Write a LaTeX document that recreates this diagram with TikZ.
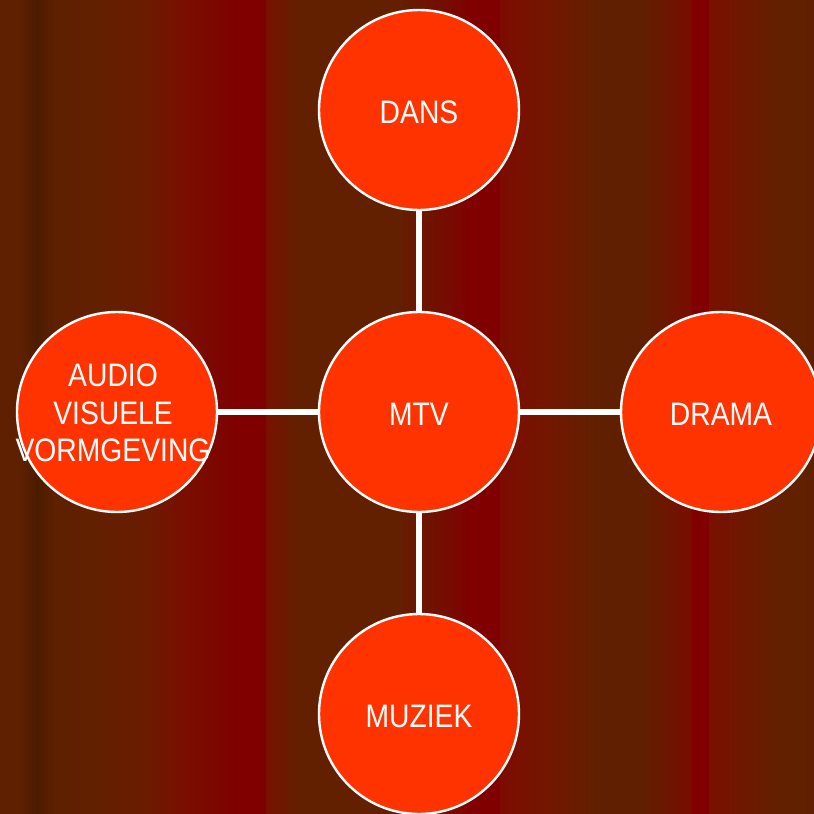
\documentclass[tikz,border=0pt]{standalone}
\usepackage{fontspec}
\setmainfont{Liberation Sans}
\usepackage{graphicx}
\definecolor{cA}{HTML}{5E2000}
\definecolor{cB}{HTML}{4C1C00}
\definecolor{cC}{HTML}{622000}
\definecolor{cD}{HTML}{6A1C00}
\definecolor{cE}{HTML}{7A0E00}
\definecolor{cF}{HTML}{7E0200}
\definecolor{cR}{HTML}{800000}
\definecolor{cG}{HTML}{781200}
\definecolor{cH}{HTML}{721600}
\definecolor{cI}{HTML}{7E0400}
\definecolor{cJ}{HTML}{7C0C00}
\definecolor{cK}{HTML}{741600}
\definecolor{cL}{HTML}{602000}
\definecolor{cM}{HTML}{7A0C00}
\definecolor{cN}{HTML}{7A1000}
\definecolor{nodefill}{HTML}{FF3300}
\tikzset{
  bubble/.style={circle, minimum size=200pt, inner sep=0pt, draw=white, line width=2.4pt, fill=nodefill},
  txt/.style={text=white, inner sep=0pt, font=\fontsize{32.5}{37.8}\selectfont},
  link/.style={draw=white, line width=6pt}
}
\newcommand{\bgseg}[4]{\fill[left color=#3, right color=#4, draw=none] (#1,0) rectangle (#2,814);}
\begin{document}
\begin{tikzpicture}[x=1pt,y=-1pt]
\useasboundingbox (0,0) rectangle (814,814);
\bgseg{0}{20}{cA}{cA}
\bgseg{20}{37}{cA}{cB}
\bgseg{37}{55}{cB}{cA}
\bgseg{55}{95}{cA}{cC}
\bgseg{95}{140}{cC}{cD}
\bgseg{140}{185}{cD}{cE}
\bgseg{185}{234}{cE}{cF}
\bgseg{234}{266}{cR}{cR}
\bgseg{266}{300}{cG}{cC}
\bgseg{300}{395}{cC}{cC}
\bgseg{395}{465}{cC}{cI}
\bgseg{465}{500}{cR}{cR}
\bgseg{500}{545}{cJ}{cK}
\bgseg{545}{600}{cK}{cL}
\bgseg{600}{640}{cL}{cL}
\bgseg{640}{692}{cL}{cM}
\bgseg{692}{709}{cR}{cR}
\bgseg{709}{780}{cN}{cC}
\bgseg{780}{814}{cC}{cL}

\node[bubble] (mtv) at (419,412) {};
\node[bubble] (dans) at (419,110) {};
\node[bubble] (av) at (117,412) {};
\node[bubble] (drama) at (721,412) {};
\node[bubble] (muziek) at (419,714) {};

\draw[link] (mtv) -- (dans);
\draw[link] (mtv) -- (av);
\draw[link] (mtv) -- (drama);
\draw[link] (mtv) -- (muziek);

\node[txt] (tmtv) at (419,414) {\scalebox{0.87}[1]{MTV}};
\node[txt] (tdans) at (419,112) {\scalebox{0.87}[1]{DANS}};
\node[txt] (tdrama) at (721,414) {\scalebox{0.87}[1]{DRAMA}};
\node[txt] (tmuziek) at (419,716) {\scalebox{0.87}[1]{MUZIEK}};
\node[txt] (tav) at (113,416.5) {\scalebox{0.87}[1]{\begin{tabular}{@{}c@{}}AUDIO\\VISUELE\\VORMGEVING\end{tabular}}};
\end{tikzpicture}
\end{document}
